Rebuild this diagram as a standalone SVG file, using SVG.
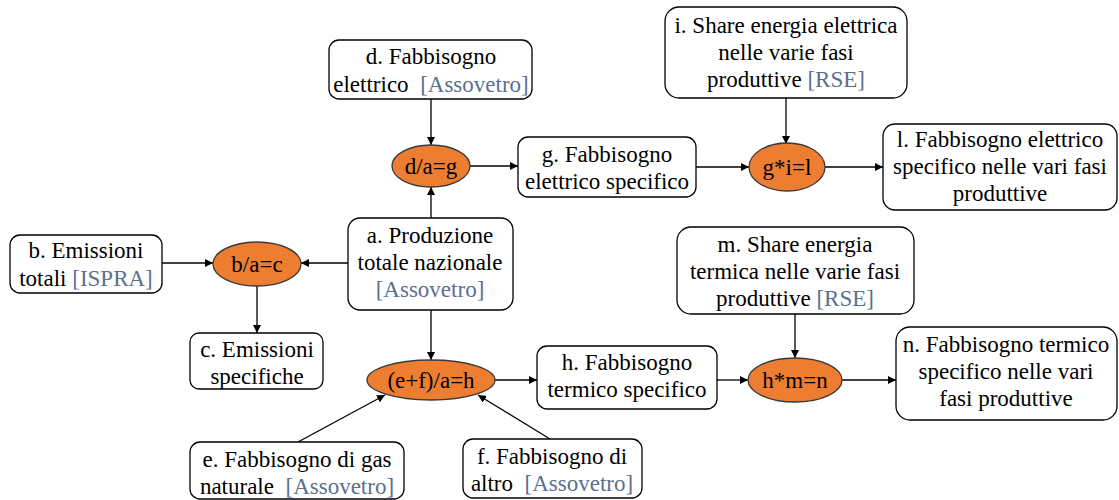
<svg xmlns="http://www.w3.org/2000/svg" width="1119" height="500" viewBox="0 0 1119 500" font-family="Liberation Serif, serif">
<defs>
<marker id="arr" viewBox="0 0 10 10" refX="10" refY="5" markerWidth="8" markerHeight="8" markerUnits="userSpaceOnUse" orient="auto">
<path d="M0,0 L10,5 L0,10 z" fill="#000"/>
</marker>
</defs>
<style>
.box{fill:#fff;stroke:#000;stroke-width:1.3}
.op{fill:#ED7D31;stroke:#3a3a3a;stroke-width:1.3}
text{font-size:23px;fill:#000;text-anchor:middle}
.src{fill:#5B6F8F}
.conn line{stroke:#000;stroke-width:1.3;marker-end:url(#arr)}
</style>
<rect width="1119" height="500" fill="#fff"/>
<g id="connectors" class="conn">
<line x1="431" y1="99" x2="431" y2="145"/>
<line x1="431" y1="218" x2="431" y2="187"/>
<line x1="470" y1="166" x2="518" y2="166"/>
<line x1="696" y1="167" x2="749" y2="167"/>
<line x1="786" y1="98" x2="786" y2="144"/>
<line x1="825" y1="167" x2="883" y2="167"/>
<line x1="162" y1="263" x2="213" y2="263"/>
<line x1="348" y1="263" x2="301" y2="263"/>
<line x1="257" y1="286" x2="257" y2="333"/>
<line x1="431" y1="310" x2="431" y2="360"/>
<line x1="495" y1="380" x2="537" y2="380"/>
<line x1="717" y1="380" x2="748" y2="380"/>
<line x1="795" y1="314" x2="795" y2="358"/>
<line x1="842" y1="380" x2="896" y2="380"/>
<line x1="298" y1="442" x2="385" y2="395"/>
<line x1="550" y1="439" x2="478" y2="395"/>
</g>
<g id="node-d">
<rect class="box" x="329" y="40" width="203" height="59" rx="10"/>
<text x="431" y="64">d. Fabbisogno</text>
<text x="431" y="92" xml:space="preserve">elettrico  <tspan class="src">[Assovetro]</tspan></text>
</g>
<g id="node-dag">
<ellipse class="op" cx="431" cy="166" rx="39" ry="21"/>
<text x="431" y="174">d/a=g</text>
</g>
<g id="node-g">
<rect class="box" x="518" y="137" width="178" height="60" rx="10"/>
<text x="607" y="162">g. Fabbisogno</text>
<text x="607" y="189">elettrico specifico</text>
</g>
<g id="node-i">
<rect class="box" x="665" y="7" width="242" height="91" rx="14"/>
<text x="786" y="33">i. Share energia elettrica</text>
<text x="786" y="60">nelle varie fasi</text>
<text x="786" y="87">produttive <tspan class="src">[RSE]</tspan></text>
</g>
<g id="node-gil">
<ellipse class="op" cx="787" cy="167" rx="38" ry="24"/>
<text x="787" y="175">g*i=l</text>
</g>
<g id="node-l">
<rect class="box" x="883" y="124" width="234" height="86" rx="12"/>
<text x="1000" y="147">l. Fabbisogno elettrico</text>
<text x="1000" y="174">specifico nelle vari fasi</text>
<text x="1000" y="201">produttive</text>
</g>
<g id="node-a">
<rect class="box" x="348" y="218" width="165" height="92" rx="12"/>
<text x="430" y="243">a. Produzione</text>
<text x="430" y="270">totale nazionale</text>
<text x="430" y="297" class="src">[Assovetro]</text>
</g>
<g id="node-b">
<rect class="box" x="10" y="235" width="152" height="58" rx="10"/>
<text x="86" y="258">b. Emissioni</text>
<text x="86" y="286">totali <tspan class="src">[ISPRA]</tspan></text>
</g>
<g id="node-bac">
<ellipse class="op" cx="257" cy="264" rx="44" ry="22"/>
<text x="257" y="272">b/a=c</text>
</g>
<g id="node-c">
<rect class="box" x="190" y="333" width="133" height="56" rx="9"/>
<text x="257" y="357">c. Emissioni</text>
<text x="257" y="384">specifiche</text>
</g>
<g id="node-efah">
<ellipse class="op" cx="431" cy="380" rx="64" ry="20"/>
<text x="431" y="388">(e+f)/a=h</text>
</g>
<g id="node-h">
<rect class="box" x="537" y="346" width="180" height="63" rx="10"/>
<text x="627" y="370">h. Fabbisogno</text>
<text x="627" y="397">termico specifico</text>
</g>
<g id="node-m">
<rect class="box" x="677" y="227" width="237" height="87" rx="14"/>
<text x="795" y="252">m. Share energia</text>
<text x="795" y="279">termica nelle varie fasi</text>
<text x="795" y="306">produttive <tspan class="src">[RSE]</tspan></text>
</g>
<g id="node-hmn">
<ellipse class="op" cx="795" cy="380" rx="47" ry="22"/>
<text x="795" y="388">h*m=n</text>
</g>
<g id="node-n">
<rect class="box" x="896" y="327" width="221" height="93" rx="14"/>
<text x="1006" y="352">n. Fabbisogno termico</text>
<text x="1006" y="379">specifico nelle vari</text>
<text x="1006" y="406">fasi produttive</text>
</g>
<g id="node-e">
<rect class="box" x="190" y="442" width="214" height="57" rx="10"/>
<text x="297" y="467">e. Fabbisogno di gas</text>
<text x="297" y="494" xml:space="preserve">naturale  <tspan class="src">[Assovetro]</tspan></text>
</g>
<g id="node-f">
<rect class="box" x="463" y="439" width="179" height="59" rx="10"/>
<text x="552" y="464">f. Fabbisogno di</text>
<text x="552" y="491" xml:space="preserve">altro  <tspan class="src">[Assovetro]</tspan></text>
</g>
</svg>
